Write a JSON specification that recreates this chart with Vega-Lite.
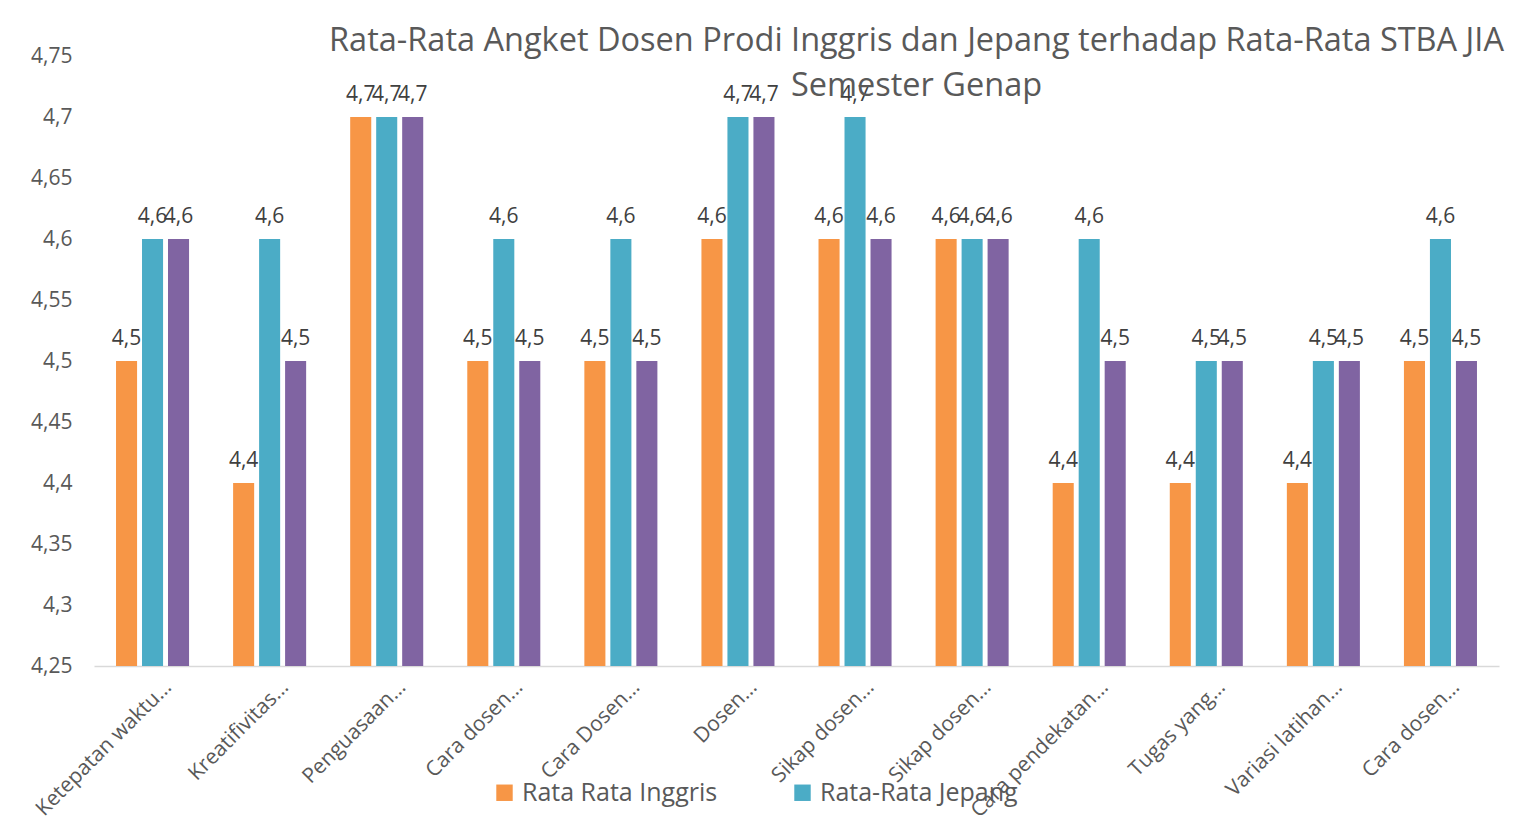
{
  "$schema": "https://vega.github.io/schema/vega-lite/v6.json",
  "autosize": "none",
  "width": 1405,
  "height": 610,
  "padding": {"left": 94, "top": 56, "right": 40, "bottom": 168},
  "background": "white",
  "config": {
    "locale": {"number": {"decimal": ",", "thousands": ".", "grouping": [3], "currency": ["", ""]}},
    "view": {"stroke": null},
    "font": "Open Sans"
  },
  "title": {
    "text": ["Rata-Rata Angket Dosen Prodi Inggris dan Jepang terhadap Rata-Rata STBA JIA", "Semester Genap"],
    "fontSize": 32.5,
    "font": "Open Sans",
    "fontWeight": "normal",
    "color": "#595959",
    "anchor": "middle",
    "frame": "group",
    "dx": 120,
    "dy": 57,
    "offset": 0,
    "lineHeight": 45
  },
  "data": {
    "values": [
      {"kategori": "Ketepatan waktu…", "seri": "Rata Rata Inggris", "nilai": 4.5},
      {"kategori": "Ketepatan waktu…", "seri": "Rata-Rata Jepang", "nilai": 4.6},
      {"kategori": "Ketepatan waktu…", "seri": "Rata-Rata STBA JIA", "nilai": 4.6},
      {"kategori": "Kreatifivitas…", "seri": "Rata Rata Inggris", "nilai": 4.4},
      {"kategori": "Kreatifivitas…", "seri": "Rata-Rata Jepang", "nilai": 4.6},
      {"kategori": "Kreatifivitas…", "seri": "Rata-Rata STBA JIA", "nilai": 4.5},
      {"kategori": "Penguasaan…", "seri": "Rata Rata Inggris", "nilai": 4.7},
      {"kategori": "Penguasaan…", "seri": "Rata-Rata Jepang", "nilai": 4.7},
      {"kategori": "Penguasaan…", "seri": "Rata-Rata STBA JIA", "nilai": 4.7},
      {"kategori": "Cara dosen…", "seri": "Rata Rata Inggris", "nilai": 4.5},
      {"kategori": "Cara dosen…", "seri": "Rata-Rata Jepang", "nilai": 4.6},
      {"kategori": "Cara dosen…", "seri": "Rata-Rata STBA JIA", "nilai": 4.5},
      {"kategori": "Cara Dosen…", "seri": "Rata Rata Inggris", "nilai": 4.5},
      {"kategori": "Cara Dosen…", "seri": "Rata-Rata Jepang", "nilai": 4.6},
      {"kategori": "Cara Dosen…", "seri": "Rata-Rata STBA JIA", "nilai": 4.5},
      {"kategori": "Dosen…", "seri": "Rata Rata Inggris", "nilai": 4.6},
      {"kategori": "Dosen…", "seri": "Rata-Rata Jepang", "nilai": 4.7},
      {"kategori": "Dosen…", "seri": "Rata-Rata STBA JIA", "nilai": 4.7},
      {"kategori": "Sikap dosen…", "seri": "Rata Rata Inggris", "nilai": 4.6},
      {"kategori": "Sikap dosen…", "seri": "Rata-Rata Jepang", "nilai": 4.7},
      {"kategori": "Sikap dosen…", "seri": "Rata-Rata STBA JIA", "nilai": 4.6},
      {"kategori": "Sikap dosen…\u200b", "seri": "Rata Rata Inggris", "nilai": 4.6},
      {"kategori": "Sikap dosen…\u200b", "seri": "Rata-Rata Jepang", "nilai": 4.6},
      {"kategori": "Sikap dosen…\u200b", "seri": "Rata-Rata STBA JIA", "nilai": 4.6},
      {"kategori": "Cara pendekatan…", "seri": "Rata Rata Inggris", "nilai": 4.4},
      {"kategori": "Cara pendekatan…", "seri": "Rata-Rata Jepang", "nilai": 4.6},
      {"kategori": "Cara pendekatan…", "seri": "Rata-Rata STBA JIA", "nilai": 4.5},
      {"kategori": "Tugas yang…", "seri": "Rata Rata Inggris", "nilai": 4.4},
      {"kategori": "Tugas yang…", "seri": "Rata-Rata Jepang", "nilai": 4.5},
      {"kategori": "Tugas yang…", "seri": "Rata-Rata STBA JIA", "nilai": 4.5},
      {"kategori": "Variasi latihan…", "seri": "Rata Rata Inggris", "nilai": 4.4},
      {"kategori": "Variasi latihan…", "seri": "Rata-Rata Jepang", "nilai": 4.5},
      {"kategori": "Variasi latihan…", "seri": "Rata-Rata STBA JIA", "nilai": 4.5},
      {"kategori": "Cara dosen…\u200b", "seri": "Rata Rata Inggris", "nilai": 4.5},
      {"kategori": "Cara dosen…\u200b", "seri": "Rata-Rata Jepang", "nilai": 4.6},
      {"kategori": "Cara dosen…\u200b", "seri": "Rata-Rata STBA JIA", "nilai": 4.5}
    ]
  },
  "encoding": {
    "x": {
      "field": "kategori",
      "type": "nominal",
      "sort": null,
      "scale": {"paddingInner": 0.334, "paddingOuter": 0.167},
      "axis": {
        "title": null,
        "labelAngle": -45,
        "labelFontSize": 21,
        "labelColor": "#595959",
        "labelFont": "Open Sans",
        "labelPadding": 10,
        "labelOffset": 8,
        "labelLimit": 300,
        "ticks": false,
        "domainColor": "#d9d9d9",
        "domainWidth": 1.5
      }
    },
    "xOffset": {
      "field": "seri",
      "type": "nominal",
      "scale": {"paddingInner": 0.19, "paddingOuter": 0.095}
    },
    "y": {
      "field": "nilai",
      "type": "quantitative",
      "scale": {"domain": [4.25, 4.75], "zero": false, "nice": false},
      "axis": {
        "title": null,
        "values": [4.25, 4.3, 4.35, 4.4, 4.45, 4.5, 4.55, 4.6, 4.65, 4.7, 4.75],
        "format": ".2~f",
        "labelFontSize": 21,
        "labelColor": "#595959",
        "labelFont": "Open Sans",
        "labelPadding": 22,
        "ticks": false,
        "domain": false,
        "grid": false
      }
    }
  },
  "layer": [
    {
      "mark": {"type": "bar"},
      "encoding": {
        "y2": {"datum": 4.25},
        "color": {
          "field": "seri",
          "type": "nominal",
          "scale": {
            "domain": ["Rata Rata Inggris", "Rata-Rata Jepang", "Rata-Rata STBA JIA"],
            "range": ["#F79646", "#4BACC6", "#8064A2"]
          },
          "legend": {
            "title": null,
            "values": ["Rata Rata Inggris", "Rata-Rata Jepang"],
            "orient": "none",
            "direction": "horizontal",
            "legendX": 398,
            "legendY": 724,
            "symbolType": "square",
            "symbolSize": 270,
            "symbolStrokeWidth": 0,
            "labelFontSize": 25,
            "labelOffset": 5,
            "labelColor": "#595959",
            "labelFont": "Open Sans",
            "labelLimit": 400,
            "columnPadding": 72
          }
        }
      }
    },
    {
      "mark": {"type": "text", "baseline": "bottom", "dy": -12, "fontSize": 21, "font": "Open Sans", "color": "#404040"},
      "encoding": {
        "text": {"field": "nilai", "type": "quantitative", "format": ".1f"}
      }
    }
  ]
}
